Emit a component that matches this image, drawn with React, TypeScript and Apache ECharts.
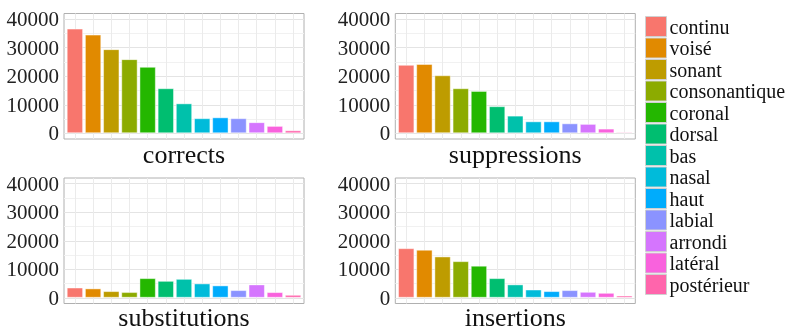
import React, { useEffect, useRef } from "react";
import * as echarts from "echarts";

const categories = ["continu", "voisé", "sonant", "consonantique", "coronal", "dorsal", "bas", "nasal", "haut", "labial", "arrondi", "latéral", "postérieur"];
const colors = ["#F8766D", "#E18A00", "#BE9C00", "#8CAB00", "#24B700", "#00BE70", "#00C1AB", "#00BBDA", "#00ACFC", "#8B93FF", "#D575FE", "#F962DD", "#FF65AC"];

const corrects = [36700, 34600, 29500, 26000, 23300, 15800, 10500, 5300, 5600, 5300, 3900, 2600, 1050];
const suppressions = [24000, 24300, 20350, 15800, 14850, 9500, 6200, 4200, 4200, 3500, 3300, 1650, 470];
const substitutions = [3600, 3300, 2350, 2000, 6900, 5950, 6650, 5050, 4350, 2700, 4700, 2000, 1050];
const insertions = [17400, 16850, 14500, 12850, 11250, 6900, 4700, 2900, 2350, 2700, 2100, 1750, 800];

const panelNames = ["corrects", "suppressions", "substitutions", "insertions"];
const panelValues = [corrects, suppressions, substitutions, insertions];

const FONT = "'Liberation Serif', 'Times New Roman', serif";

export default function App() {
  const ref = useRef<HTMLDivElement>(null);
  useEffect(() => {
    if (!ref.current) return;
    const chart = echarts.init(ref.current, null, { renderer: "svg" });
    const lefts = [64, 395.3, 64, 395.3];
    const tops = [13.5, 13.5, 178, 178];
    const titleY = [154, 154, 317, 317];
    const W = 240;
    const H = 125.5;
    const T = "rgba(0,0,0,0)";
    const xColors = [T, T, T, "#EBEBEB", T];
    const yColors = [T, T, "#E4E4E4", T, T, T, T, "#F1F1F1", T, T];

    const grids = lefts.map((l, k) => ({
      left: l,
      top: tops[k],
      width: W,
      height: H,
      show: true,
      borderColor: "#B0B0B0",
      borderWidth: 1,
      backgroundColor: "transparent",
    }));
    const xAxes = lefts.map((_, k) => ({
      type: "value",
      gridIndex: k,
      min: -0.6,
      max: 12.6,
      interval: 0.2,
      axisLabel: { show: false },
      axisTick: { show: false },
      axisLine: { show: false },
      splitLine: { show: true, lineStyle: { color: xColors, width: 1 } },
    }));
    const yAxes = lefts.map((_, k) => ({
      type: "value",
      gridIndex: k,
      min: -2000,
      max: 42000,
      interval: 1000,
      axisLabel: {
        formatter: (v: number) => (v >= 0 && Math.round(v) % 10000 === 0 ? String(Math.round(v)) : ""),
        fontSize: 21,
        fontFamily: FONT,
        color: "#222222",
        margin: 5,
      },
      axisTick: { show: false },
      axisLine: { show: false },
      splitLine: { show: true, lineStyle: { color: yColors, width: 1 } },
    }));
    const series: any[] = [];
    panelValues.forEach((vals, k) => {
      categories.forEach((c, j) => {
        series.push({
          type: "bar",
          name: c,
          xAxisIndex: k,
          yAxisIndex: k,
          data: [[j, vals[j]]],
          barWidth: 16.4,
          barGap: "-100%",
          silent: true,
          itemStyle: { color: colors[j], borderColor: "rgba(255,255,255,0.45)", borderWidth: 1 },
        });
      });
    });
    const titles = panelNames.map((n, k) => ({
      type: "text",
      x: lefts[k] + W / 2,
      y: titleY[k],
      style: {
        text: n,
        font: `26px ${FONT}`,
        lineHeight: 26,
        fill: "#111111",
        textAlign: "center",
        textVerticalAlign: "middle",
      },
    }));
    chart.setOption({
      animation: false,
      grid: grids,
      xAxis: xAxes,
      yAxis: yAxes,
      series,
      legend: {
        orient: "vertical",
        left: 645,
        top: 16,
        padding: 0,
        data: categories,
        icon: "rect",
        itemWidth: 21,
        itemHeight: 20,
        itemGap: 0.5,
        selectedMode: false,
        itemStyle: { borderColor: "#D0D0D0", borderWidth: 1 },
        textStyle: { fontSize: 20, lineHeight: 20, fontFamily: FONT, color: "#111111", padding: [0, 0, 0, -2] },
      },
      graphic: titles,
    });
    return () => chart.dispose();
  }, []);
  return <div ref={ref} style={{ position: "fixed", left: 0, top: 0, width: 786, height: 331 }} />;
}
